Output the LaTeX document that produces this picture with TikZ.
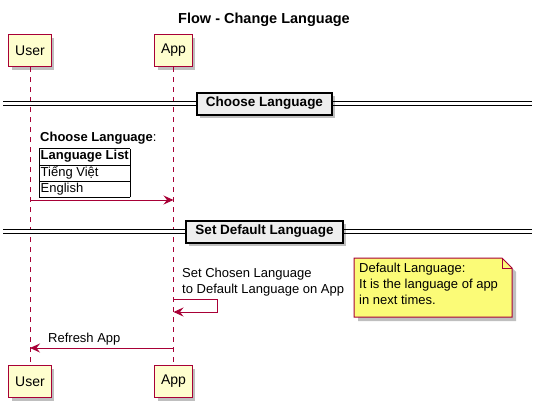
\documentclass[tikz,border=0pt]{standalone}
\usepackage{fontspec}
\setmainfont{Liberation Sans}
\usetikzlibrary{arrows.meta,shadows}
\definecolor{umlred}{HTML}{A80036}
\definecolor{umlbox}{HTML}{FEFECE}
\definecolor{umlnote}{HTML}{FBFB77}
\definecolor{umlsep}{HTML}{EEEEEE}
\tikzset{
    actor/.style={draw=umlred, fill=umlbox, line width=1pt, minimum height=32pt, inner xsep=6.5pt,
        font=\fontsize{14}{16}\selectfont,
        drop shadow={shadow xshift=3pt, shadow yshift=-3pt, fill=black, opacity=.25}},
    lifeline/.style={umlred, line width=0.8pt, dash pattern=on 5pt off 5pt},
    msg/.style={umlred, line width=1pt, -{Stealth[length=10pt, width=9pt, inset=3.5pt]}},
    msgtext/.style={font=\fontsize{13}{16}\selectfont, inner sep=0pt},
    sepline/.style={double, double distance=2.2pt, line width=1pt},
    sepbox/.style={draw, fill=umlsep, line width=2pt, minimum height=22pt, inner xsep=9pt,
        font=\bfseries\fontsize{13.5}{16}\selectfont,
        drop shadow={shadow xshift=3pt, shadow yshift=-3pt, fill=black, opacity=.25}},
}

\begin{document}
\begin{tikzpicture}[x=1pt, y=-1pt]
    \useasboundingbox (0,0) rectangle (537,407);
    \node[font=\bfseries\fontsize{14.5}{17}\selectfont] (title) at (264,20) {Flow - Change Language};

    \node[actor] (userTop) at (30,50.5) {User};
    \node[actor] (appTop) at (173.5,50.5) {App};
    \node[actor] (userBot) at (30,381.5) {User};
    \node[actor] (appBot) at (173.5,381.5) {App};
    \draw[lifeline] (userTop) -- (userBot);
    \draw[lifeline] (appTop) -- (appBot);

    % dividers
    \draw[sepline] (3,103.5) -- (532,103.5);
    \node[sepbox] (chooseSep) at (264.5,103.5) {Choose Language};
    \draw[sepline] (3,231.5) -- (532,231.5);
    \node[sepbox] (defaultSep) at (264.5,231.5) {Set Default Language};

    % choose language
    \coordinate (u1) at (userTop.south |- 0,200);
    \coordinate (a1) at (appTop.south |- 0,200);
    \draw[msg] (u1) -- (a1);
    \node[msgtext, anchor=west] (chooseLbl) at (40,138) {\textbf{Choose Language}:};
    \node[msgtext, anchor=north west] (langList) at (39,148) {%
        \setlength\tabcolsep{1.5pt}\fontsize{13}{16}\selectfont
        \begin{tabular}{|l|}\hline
        \textbf{Language List}\\\hline
        Tiếng Việt\\\hline
        English\\\hline
        \end{tabular}};

    % self message
    \coordinate (a2) at (appTop.south |- 0,299);
    \coordinate (a3) at (appTop.south |- 0,312);
    \draw[msg] (a2) -- ++(43.5,0) |- (a3);
    \node[msgtext, anchor=south west, align=left] (setLbl) at (182,296)
        {Set Chosen Language\\to Default Language on App};

    % note
    \fill[black, opacity=.25] (358,262) -- (506,262) -- (516,272) -- (516,321) -- (358,321) -- cycle;
    \filldraw[draw=umlred, fill=umlnote, line width=1pt]
        (354,258) -- (502,258) -- (512,268) -- (512,317) -- (354,317) -- cycle;
    \draw[umlred, line width=1pt] (502,258) -- (502,268) -- (512,268);
    \node[msgtext, anchor=north west, align=left] (noteText) at (359,263)
        {Default Language:\\It is the language of app\\in next times.};

    % refresh
    \coordinate (a4) at (appTop.south |- 0,348);
    \coordinate (u4) at (userTop.south |- 0,348);
    \draw[msg] (a4) -- (u4);
    \node[msgtext, anchor=west] (refreshLbl) at (48,339) {Refresh App};
\end{tikzpicture}
\end{document}
